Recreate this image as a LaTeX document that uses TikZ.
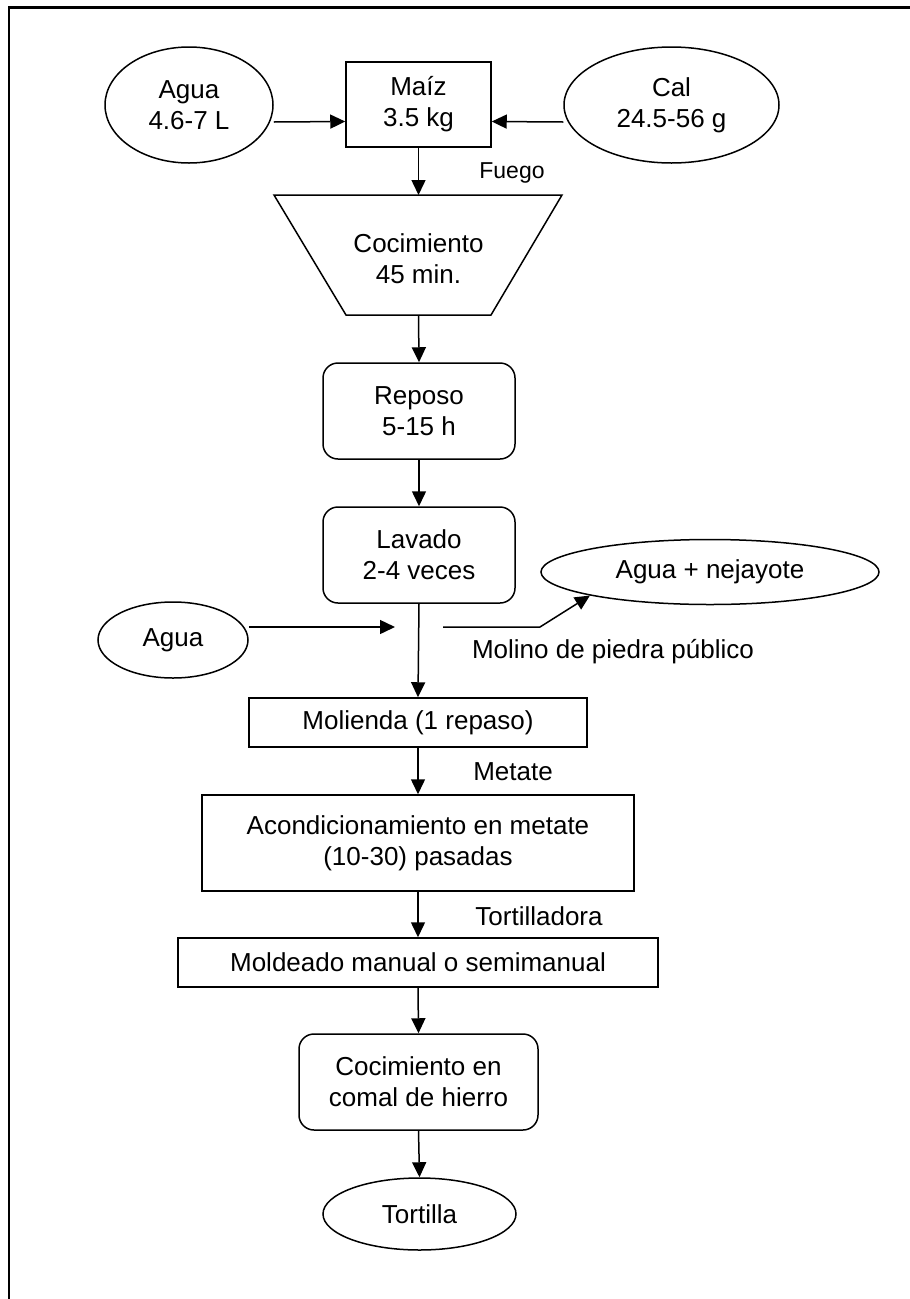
\documentclass[tikz,border=0pt]{standalone}
\usepackage{fontspec}
\setmainfont{Liberation Sans}
\usetikzlibrary{arrows.meta,shapes.geometric}
\newcommand{\mainsz}{\fontsize{26}{31}\selectfont}
\newcommand{\smallsz}{\fontsize{23}{27}\selectfont}
\tikzset{
  base/.style={draw, line width=1.5pt, align=center, font=\mainsz, inner sep=0pt},
  boxr/.style={base, rectangle},
  boxround/.style={base, rectangle, rounded corners=15pt},
  oval/.style={base, ellipse},
  lbl/.style={font=\mainsz, inner sep=0pt},
  arr/.style={line width=1.5pt, -{Triangle[length=15pt,width=14pt]}},
  frameline/.style={line width=2.2pt},
}
\begin{document}
\begin{tikzpicture}[x=1pt,y=-1pt]
\useasboundingbox (0,0) rectangle (910,1299);
% frame (only top and left edges visible)
\draw[frameline] (9,1299) -- (9,7.5) -- (910,7.5);

% top row
\node[boxr, minimum width=145pt, minimum height=85pt] (maiz) at (418.5,104.5) {Maíz\\3.5 kg};
\node[oval, minimum width=168pt, minimum height=116pt] (agua1) at (189,105) {Agua\\4.6-7 L};
\node[oval, minimum width=215pt, minimum height=116pt] (cal) at (671.5,105) {Cal\\24.5-56 g};
\draw[arr] ([yshift=-17pt]agua1.east) -- ([yshift=-17pt]maiz.west);
\draw[arr] ([yshift=-17pt]cal.west) -- ([yshift=-17pt]maiz.east);
\node[lbl, font=\smallsz] (fuego) at (512,173) {Fuego};

% cooking trapezoid
\draw[line width=1.5pt] (274,195) -- (562,195) -- (491,315) -- (346,315) -- cycle;
\coordinate (cocT) at (418.5,195);
\coordinate (cocB) at (418.5,315);
\node[lbl, align=center] (coc) at (418.5,259) {Cocimiento\\45 min.};
\draw[arr] (maiz.south) -- (cocT);

% reposo, lavado
\node[boxround, minimum width=192pt, minimum height=96pt] (reposo) at (419,411) {Reposo\\5-15 h};
\draw[arr] (cocB) -- (reposo.north);
\node[boxround, minimum width=192pt, minimum height=96pt] (lavado) at (419,555) {Lavado\\2-4 veces};
\draw[arr] (reposo.south) -- (lavado.north);

\node[oval, minimum width=338pt, minimum height=65pt] (nej) at (710,572) {Agua + nejayote};
\node[oval, minimum width=150pt, minimum height=76pt] (agua2) at (173,640) {Agua};
\coordinate (jin) at (395,627);
\coordinate (jout) at (443,627);
\draw[arr] ([yshift=13pt]agua2.east) -- (jin);
\draw[arr] (jout) -- ++(97,0) -- (nej.south west);
\node[lbl] (molino) at (613,652) {Molino de piedra público};

% molienda
\node[boxr, minimum width=338pt, minimum height=49pt] (molienda) at (418,722.5) {Molienda (1 repaso)};
\draw[arr] (lavado.south) -- (molienda.north);
\node[lbl] (metate) at (513,772) {Metate};

\node[boxr, minimum width=432pt, minimum height=96pt] (acond) at (418,843) {Acondicionamiento en metate\\(10-30) pasadas};
\draw[arr] (molienda.south) -- (acond.north);
\node[lbl] (tortilladora) at (539,916) {Tortilladora};

\node[boxr, minimum width=480pt, minimum height=49pt] (molde) at (418,962.5) {Moldeado manual o semimanual};
\draw[arr] (acond.south) -- (molde.north);

\node[boxround, minimum width=239pt, minimum height=96pt] (comal) at (418.5,1082) {Cocimiento en\\comal de hierro};
\draw[arr] (molde.south) -- (comal.north);

\node[oval, minimum width=193pt, minimum height=72pt] (tortilla) at (419.5,1214) {Tortilla};
\draw[arr] (comal.south) -- (tortilla.north);
\end{tikzpicture}
\end{document}
